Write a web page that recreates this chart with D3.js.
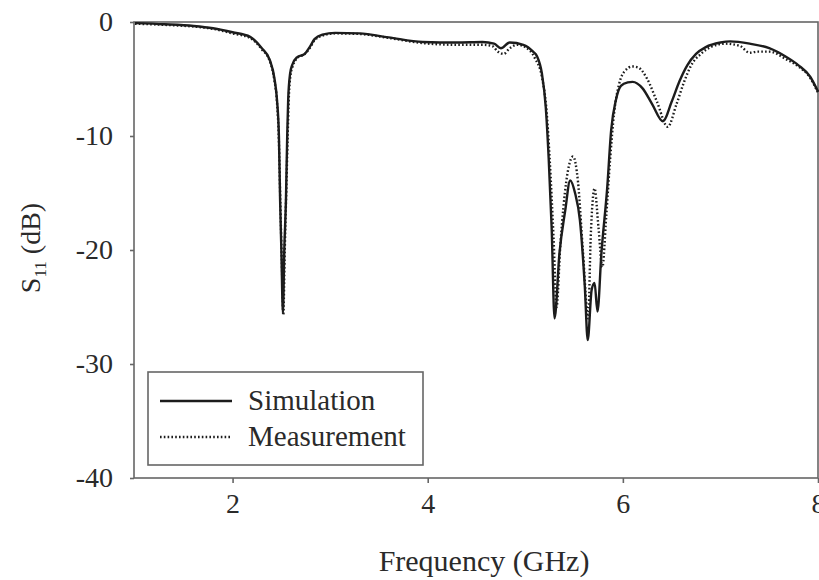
<!DOCTYPE html>
<html>
<head>
<meta charset="utf-8">
<script src="https://cdn.jsdelivr.net/npm/d3@7"></script>
<style>
  body { margin: 0; background: #fff; }
  svg { display: block; font-family: 'Liberation Serif', 'Times New Roman', serif; }
</style>
</head>
<body>
<svg id="chart" width="819" height="580"></svg>
<script>
'use strict';

// Frequency (GHz) / S11 (dB) for each curve
const simFreq = [1.0, 1.3, 1.6, 1.8, 2.0, 2.18, 2.3, 2.38, 2.43, 2.455, 2.475, 2.487, 2.5, 2.516, 2.53, 2.547, 2.56, 2.57, 2.59, 2.61, 2.66, 2.74, 2.79, 2.84, 2.92, 3.05, 3.3, 3.6, 3.95, 4.3, 4.56, 4.68, 4.75, 4.84, 4.98, 5.08, 5.12, 5.17, 5.21, 5.24, 5.27, 5.3, 5.35, 5.41, 5.46, 5.51, 5.56, 5.61, 5.64, 5.68, 5.71, 5.74, 5.78, 5.84, 5.88, 5.93, 5.98, 6.05, 6.1, 6.2, 6.3, 6.41, 6.5, 6.58, 6.66, 6.75, 6.85, 7.0, 7.1, 7.3, 7.5, 7.68, 7.8, 7.92, 8.0];
const simDb = [-0.1, -0.2, -0.35, -0.55, -0.9, -1.3, -2.3, -3.3, -5, -6.8, -10, -15.6, -20, -25.5, -20, -15.6, -10, -6.8, -4.5, -3.8, -3.1, -2.8, -2.2, -1.5, -1.1, -0.95, -1.0, -1.35, -1.75, -1.8, -1.75, -1.9, -2.3, -1.8, -2.0, -2.6, -3.0, -4.5, -7.5, -12, -18, -26, -20.3, -16.5, -13.9, -15, -17.4, -23.2, -27.9, -23.5, -22.9, -25.4, -20.3, -14.5, -9.5, -6.8, -5.6, -5.3, -5.25, -5.8, -7.2, -8.7, -7, -5.2, -3.8, -2.8, -2.2, -1.8, -1.7, -1.9, -2.3, -3.1, -3.8, -4.8, -6.1];

const measFreq = [1.0, 1.3, 1.6, 1.8, 2.0, 2.18, 2.3, 2.38, 2.43, 2.455, 2.475, 2.49, 2.505, 2.52, 2.535, 2.55, 2.565, 2.575, 2.595, 2.615, 2.66, 2.74, 2.79, 2.84, 2.92, 3.05, 3.3, 3.6, 3.95, 4.3, 4.56, 4.66, 4.72, 4.78, 4.84, 4.92, 5.0, 5.1, 5.17, 5.22, 5.25, 5.29, 5.32, 5.36, 5.42, 5.49, 5.54, 5.59, 5.645, 5.67, 5.71, 5.75, 5.79, 5.83, 5.87, 5.91, 5.96, 6.02, 6.1, 6.16, 6.25, 6.35, 6.46, 6.55, 6.63, 6.7, 6.8, 6.9, 7.05, 7.2, 7.3, 7.38, 7.5, 7.68, 7.8, 7.92, 8.0];
const measDb = [-0.15, -0.25, -0.4, -0.6, -1.0, -1.4, -2.4, -3.4, -5.2, -7, -10.5, -16, -21, -25.7, -20, -15, -10, -7, -4.6, -3.9, -3.2, -2.8, -2.3, -1.6, -1.2, -1.0, -1.05, -1.4, -1.85, -2.0, -2.0, -2.1, -2.6, -2.8, -2.3, -2.0, -2.2, -3.2, -4.8, -8, -12, -19, -25, -19.5, -14, -11.8, -14, -20, -26, -19, -14.6, -18, -21.5, -17, -12, -8, -5.5, -4.3, -3.9, -4.0, -5, -7, -9.2, -7.2, -5.2, -3.8, -2.8, -2.2, -1.9, -2.1, -2.7, -2.6, -2.6, -3.3, -3.9, -4.9, -6.2];

const xTicks = [2, 4, 6, 8];
const yTicks = [0, -10, -20, -30, -40];
const seriesNames = ['Simulation', 'Measurement'];

const svg = d3.select('#chart');
const margin = {left: 135, right: 1, top: 22, bottom: 102};
const width = +svg.attr('width');
const height = +svg.attr('height');

const x = d3.scaleLinear().domain([1, 8]).range([margin.left, width - margin.right]);
const y = d3.scaleLinear().domain([-40, 0]).range([height - margin.bottom, margin.top]);

const axisColor = '#666';
const textColor = '#2a2a2a';
const lineColor = '#1c1c1c';

// frame
svg.append('rect')
    .attr('x', x(1) - 1)
    .attr('y', y(0))
    .attr('width', x(8) - x(1) + 1)
    .attr('height', y(-40) - y(0))
    .attr('fill', 'none')
    .attr('stroke', axisColor)
    .attr('stroke-width', 1.6);

const xAxis = svg.append('g')
    .attr('transform', `translate(0,${y(-40)})`)
    .call(d3.axisBottom(x).tickValues(xTicks).tickSize(5).tickPadding(10).tickFormat(d3.format('d')));

const yAxis = svg.append('g')
    .attr('transform', `translate(${x(1) - 1},0)`)
    .call(d3.axisLeft(y).tickValues(yTicks).tickSize(4).tickPadding(17).tickFormat(d => d === 0 ? '0' : '-' + Math.abs(d)));

[xAxis, yAxis].forEach(g => {
    g.select('.domain').remove();
    g.selectAll('line').attr('stroke', axisColor).attr('stroke-width', 1.6);
    g.selectAll('text')
        .attr('fill', textColor)
        .style('font-size', '28px')
        .style('font-family', "'Liberation Serif', serif");
});

// axis titles
svg.append('text')
    .attr('x', 484)
    .attr('y', 571)
    .attr('text-anchor', 'middle')
    .attr('fill', textColor)
    .style('font-size', '30px')
    .text('Frequency (GHz)');

const yTitle = svg.append('text')
    .attr('transform', 'translate(40,248) rotate(-90)')
    .attr('text-anchor', 'middle')
    .attr('fill', textColor)
    .style('font-size', '28px');
yTitle.append('tspan').text('S');
yTitle.append('tspan').attr('dy', 6).style('font-size', '17px').text('11');
yTitle.append('tspan').attr('dy', -6).text(' (dB)');

// curves
const line = d3.line()
    .x(d => x(d[0]))
    .y(d => y(d[1]))
    .curve(d3.curveMonotoneX);

const simData = simFreq.map((f, i) => [f, simDb[i]]);
const measData = measFreq.map((f, i) => [f, measDb[i]]);

const plot = svg.append('g');

plot.append('path')
    .datum(measData)
    .attr('fill', 'none')
    .attr('stroke', lineColor)
    .attr('stroke-width', 2.4)
    .attr('stroke-dasharray', '1.6,2.2')
    .attr('d', line);

plot.append('path')
    .datum(simData)
    .attr('fill', 'none')
    .attr('stroke', lineColor)
    .attr('stroke-width', 2.4)
    .attr('d', line);

// legend
const legend = svg.append('g');
legend.append('rect')
    .attr('x', 148)
    .attr('y', 372)
    .attr('width', 275)
    .attr('height', 93)
    .attr('fill', '#fff')
    .attr('stroke', axisColor)
    .attr('stroke-width', 1.6);

seriesNames.forEach((name, i) => {
    const ly = 401 + i * 36;
    legend.append('line')
        .attr('x1', 160)
        .attr('x2', 232)
        .attr('y1', ly)
        .attr('y2', ly)
        .attr('stroke', lineColor)
        .attr('stroke-width', 2.4)
        .attr('stroke-dasharray', i === 1 ? '1.6,2.2' : null);
    legend.append('text')
        .attr('x', 248)
        .attr('y', ly + 9)
        .attr('fill', textColor)
        .style('font-size', '29px')
        .text(name);
});
</script>
</body>
</html>
